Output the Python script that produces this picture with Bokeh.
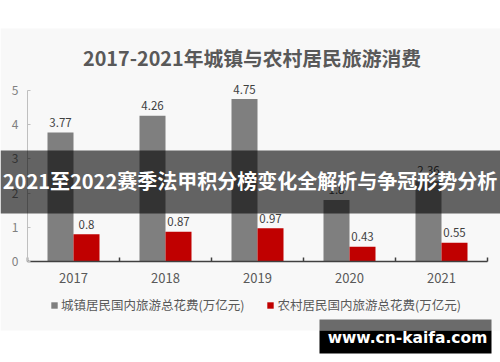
from bokeh.plotting import figure
from bokeh.models import (Range1d, FixedTicker, Label, BoxAnnotation, Legend,
                          LegendItem, ColumnDataSource)
from bokeh.core.properties import value
from bokeh.transform import dodge
from bokeh.embed import file_html
from bokeh.resources import INLINE

# ---- data ----
years = [2017, 2018, 2019, 2020, 2021]
urban = [3.77, 4.26, 4.75, 1.80, 2.36]
rural = [0.80, 0.87, 0.97, 0.43, 0.55]
y_ticks = [0, 1, 2, 3, 4, 5]
title_text = "2017-2021年城镇与农村居民旅游消费"
legend_labels = ["城镇居民国内旅游总花费(万亿元)", "农村居民国内旅游总花费(万亿元)"]
banner_text = "2021至2022赛季法甲积分榜变化全解析与争冠形势分析"
watermark_text = "www.cn-kaifa.com"

GRAY = "#7f7f7f"
RED = "#c00000"
FONT = "Noto Sans CJK SC"

src = ColumnDataSource(dict(
    year=years, urban=urban, rural=rural,
    urban_lbl=[f"{v:g}" for v in urban],
    rural_lbl=[f"{v:g}" for v in rural],
))

W, H = 500, 362
# plot area layout (pixels): x axis from 27 to 487, y=0 at 261, y=5 at 90
X0, XW = 27.0, 460.0
Y0, YT = 261.0, 90.0
xs = XW / (len(years))               # px per category
ys = (Y0 - YT) / (y_ticks[-1] - y_ticks[0])  # px per unit
x_lo = years[0] - 0.5 - X0 / xs
x_hi = years[0] - 0.5 + (W - X0) / xs
y_lo = y_ticks[0] - (H - Y0) / ys
y_hi = y_ticks[0] + Y0 / ys

p = figure(width=W, height=H, output_backend="svg", toolbar_location=None,
           x_range=Range1d(x_lo, x_hi), y_range=Range1d(y_lo, y_hi),
           min_border=0)
p.min_border_left = p.min_border_right = p.min_border_top = p.min_border_bottom = 0
p.outline_line_color = None
p.grid.visible = False
p.border_fill_color = "white"
p.background_fill_color = "white"

# light background panel
p.add_layout(BoxAnnotation(left=0, right=W, top=28, bottom=330,
                           left_units="canvas", right_units="canvas",
                           top_units="canvas", bottom_units="canvas",
                           fill_color="#f8f8f8", fill_alpha=1, line_color=None,
                           level="underlay"))

bw = 0.2826
r1 = p.vbar(x=dodge("year", -bw / 2, range=p.x_range), top="urban", width=bw,
            source=src, fill_color=GRAY, line_color=None)
r2 = p.vbar(x=dodge("year", bw / 2, range=p.x_range), top="rural", width=bw,
            source=src, fill_color=RED, line_color=None)

p.text(x=dodge("year", -bw / 2, range=p.x_range), y="urban", text="urban_lbl",
       source=src, text_align="center", text_baseline="alphabetic", y_offset=-10,
       text_font=value(FONT), text_font_size="11.5px", text_color="#404040")
p.text(x=dodge("year", bw / 2, range=p.x_range), y="rural", text="rural_lbl",
       source=src, text_align="center", text_baseline="alphabetic", y_offset=-10,
       text_font=value(FONT), text_font_size="11.5px", text_color="#404040")

# axes
xa = p.xaxis[0]
xa.fixed_location = y_ticks[0]
xa.bounds = (years[0] - 0.5, years[-1] + 0.5)
xa.ticker = FixedTicker(ticks=years, minor_ticks=[y - 0.5 for y in years] + [years[-1] + 0.5])
xa.axis_line_color = "#404040"
xa.axis_line_width = 1.5
xa.major_tick_in = 0
xa.major_tick_out = 0
xa.minor_tick_in = 4
xa.minor_tick_out = 0
xa.minor_tick_line_color = "#404040"
xa.minor_tick_line_width = 1.5
xa.major_label_standoff = 11
xa.major_label_text_font = FONT
xa.major_label_text_font_size = "13px"
xa.major_label_text_color = "#595959"

ya = p.yaxis[0]
ya.fixed_location = years[0] - 0.5
ya.bounds = (y_ticks[0], y_ticks[-1])
ya.ticker = FixedTicker(ticks=y_ticks)
ya.axis_line_color = "#bfbfbf"
ya.major_tick_in = 3
ya.major_tick_out = 0
ya.major_tick_line_color = "#bfbfbf"
ya.minor_tick_line_color = None
ya.major_label_standoff = 9
ya.major_label_text_font = FONT
ya.major_label_text_font_size = "12px"
ya.major_label_text_color = "#808080"

# legend
legend = Legend(items=[LegendItem(label=legend_labels[0], renderers=[r1]),
                       LegendItem(label=legend_labels[1], renderers=[r2])],
                orientation="horizontal", location=(50, 48),
                padding=0, margin=0, spacing=22, label_standoff=3,
                glyph_width=8, glyph_height=8, label_height=14,
                label_text_font=FONT, label_text_font_size="12.5px",
                label_text_color="#595959",
                background_fill_alpha=0, border_line_color=None)
p.add_layout(legend, "center")

# title
p.add_layout(Label(x=251.5, y=57, x_units="canvas", y_units="canvas",
                   text=title_text, text_align="center", text_baseline="middle",
                   text_font=FONT, text_font_size="19.8px", text_font_style="bold",
                   text_color="#595959"))

# banner overlay
p.add_layout(BoxAnnotation(left=0, right=W, top=150, bottom=213,
                           left_units="canvas", right_units="canvas",
                           top_units="canvas", bottom_units="canvas",
                           fill_color="black", fill_alpha=0.6, line_color=None,
                           level="overlay"))
p.add_layout(Label(x=249.5, y=180, x_units="canvas", y_units="canvas",
                   text=banner_text, text_align="center", text_baseline="middle",
                   text_font=FONT, text_font_size="20px", text_font_style="bold",
                   text_color="white", level="overlay"))

# watermark box
p.add_layout(BoxAnnotation(left=319, right=491, top=319, bottom=330,
                           left_units="canvas", right_units="canvas",
                           top_units="canvas", bottom_units="canvas",
                           fill_color="#6b6b6b", fill_alpha=1, line_color=None,
                           level="overlay"))
p.add_layout(BoxAnnotation(left=319, right=491, top=330, bottom=353,
                           left_units="canvas", right_units="canvas",
                           top_units="canvas", bottom_units="canvas",
                           fill_color="black", fill_alpha=1, line_color=None,
                           level="overlay"))
p.add_layout(Label(x=407, y=337, x_units="canvas", y_units="canvas",
                   text=watermark_text, text_align="center", text_baseline="middle",
                   text_font="DejaVu Sans", text_font_size="15.5px", text_font_style="bold",
                   text_color="white", level="overlay"))

open("out.html", "w").write(file_html(p, INLINE))
